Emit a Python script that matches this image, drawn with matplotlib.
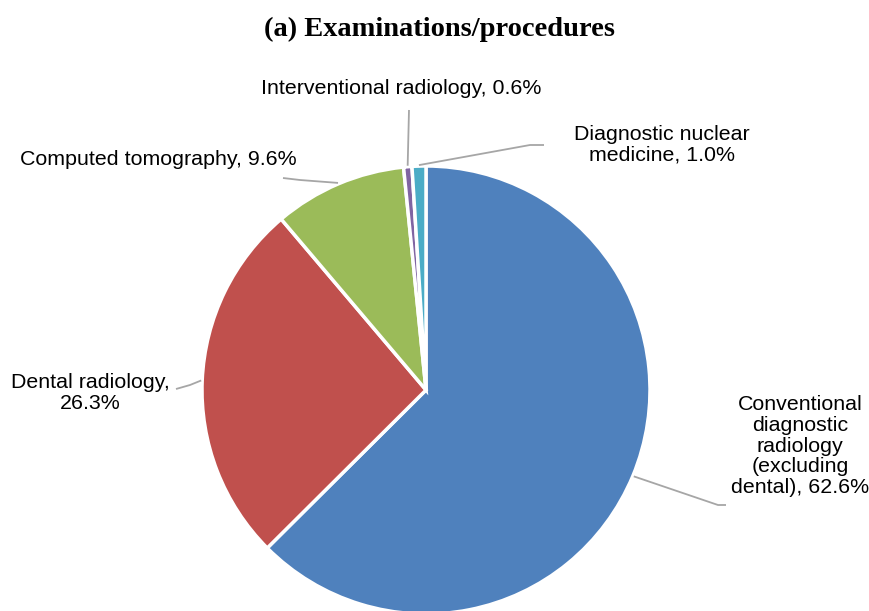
import numpy as np
import matplotlib
matplotlib.use("Agg")
import matplotlib.pyplot as plt

categories = ["Conventional diagnostic radiology (excluding dental)", "Dental radiology",
              "Computed tomography", "Interventional radiology", "Diagnostic nuclear medicine"]
shares = [62.6, 26.3, 9.6, 0.6, 1.0]
colors = ["#4F81BD", "#C0504D", "#9BBB59", "#8064A2", "#4BACC6"]
label_texts = ["Conventional\ndiagnostic\nradiology\n(excluding\ndental), 62.6%",
               "Dental radiology,\n26.3%",
               "Computed tomography, 9.6%",
               "Interventional radiology, 0.6%",
               "Diagnostic nuclear\nmedicine, 1.0%"]

W, H = 870, 611
fig = plt.figure(figsize=(W / 100, H / 100), dpi=100)
ax = fig.add_axes([0, 0, 1, 1])

cx, cy, r = 426, H - 390, 224
wedges, _ = ax.pie(shares, colors=colors, startangle=90, counterclock=False,
                   center=(cx, cy), radius=r, frame=True,
                   wedgeprops=dict(edgecolor="white", linewidth=2.5))
ax.set_xlim(0, W)
ax.set_ylim(0, H)
ax.set_aspect("equal")
ax.axis("off")

# label text position (pixels from top-left), elbow point, horizontal end
layout = [
    ((800, 446), (718, 505), (726, 505)),
    ((90, 393), (190, 385), (176, 389)),
    ((158, 160), (300, 180), (283, 178)),
    ((401, 88), (409, 110), (409, 110)),
    ((662, 145), (530, 145), (544, 145)),
]

font = dict(family="Liberation Sans", size=15.4, color="#000000")
for w, txt, (tp, elbow, end) in zip(wedges, label_texts, layout):
    mid = np.deg2rad((w.theta1 + w.theta2) / 2)
    sx, sy = cx + (r + 1) * np.cos(mid), cy + (r + 1) * np.sin(mid)
    ax.plot([sx, elbow[0], end[0]], [sy, H - elbow[1], H - end[1]],
            color="#A6A6A6", lw=1.3, solid_capstyle="butt")
    ax.text(tp[0], H - tp[1], txt, ha="center", va="center",
            multialignment="center", linespacing=1.12, **font)

fig.text(440 / W, 1 - 29 / H, "(a) Examinations/procedures", ha="center", va="center",
         family="Liberation Serif", weight="bold", size=20.5)

fig.savefig("out.png", dpi=100)
